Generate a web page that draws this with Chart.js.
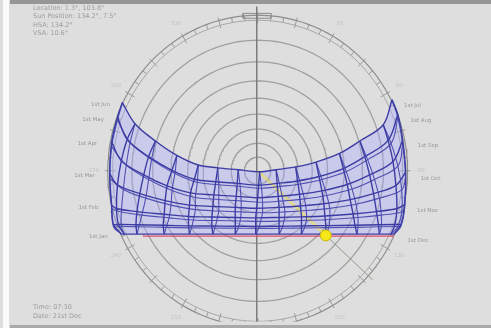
<!DOCTYPE html>
<html>
<head>
<meta charset="utf-8">
<script src="https://cdn.jsdelivr.net/npm/chart.js@4"></script>
<style>
  html, body { margin: 0; padding: 0; background: #dedede; }
  #wrap { position: relative; width: 491px; height: 328px; overflow: hidden; background: #dedede; }
  #chart { position: absolute; left: 0; top: 0; }
  .band-top { position: absolute; left: 10px; top: 0; width: 481px; height: 4px; background: #969696; }
  .strip { position: absolute; left: 3px; top: 0; width: 6px; height: 328px; background: #fbfbfb; }
  .band-bottom { position: absolute; left: 10px; top: 325px; width: 481px; height: 3px; background: #a9a9a9; }
  .info { position: absolute; left: 33px; font: 6.5px "DejaVu Sans", sans-serif; color: #9c9c9c; line-height: 8.3px; white-space: pre; }
</style>
</head>
<body>
<div id="wrap">
  <canvas id="chart" width="491" height="328"></canvas>
  <div class="band-top"></div>
  <div class="strip"></div>
  <div class="band-bottom"></div>
  <div class="info" id="head" style="top:4px"></div>
  <div class="info" id="foot" style="top:303px;line-height:9px"></div>
</div>
<script>
// ---- Diagram data (x: east-west offset, y: north-south offset, horizon radius = 154) ----
const horizonRadius = 154;
const ringAltitudes = [10, 20, 30, 40, 50, 60, 70, 80];
const azimuthLabels = ['0', '30', '60', '90', '120', '150', '180', '210', '240', '270', '300', '330'];

// hour lines between sunrise (first column) and sunset (last column)
const hourLabels = ['6', '7', '8', '9', '10', '11', '12', '13', '14', '15', '16', '17', '18'];

// day paths, top (June) to bottom (December): x and y at each column
const row0X = [-139, -126, -105, -83, -61, -41, -20, 2, 19, 39, 60, 84, 105, 129, 138];
const row0Y = [67.5, 46.6, 29.5, 15.2, 5.7, 2.9, 1.0, -1.0, 1.0, 3.8, 8.6, 17.1, 29.5, 45.6, 70.3];
const row1X = [-144, -134, -112, -88, -65, -43, -21, 1, 20, 41, 63, 88, 110, 134, 144];
const row1Y = [53.1, 31.0, 14.0, 0.4, -8.4, -10.8, -12.5, -14.3, -12.5, -10.1, -5.7, 2.2, 14.0, 30.1, 55.7];
const row2X = [-150, -140, -117, -93, -69, -45, -22, 0, 21, 43, 66, 92, 115, 139, 149];
const row2Y = [28.4, 10.0, -4.1, -15.0, -21.9, -23.9, -25.3, -26.6, -25.3, -23.3, -19.9, -13.6, -4.1, 9.1, 30.4];
const row3X = [-152, -144, -121, -95, -70, -46, -23, -1, 22, 44, 68, 95, 119, 142, 152];
const row3Y = [-2.9, -14.0, -22.6, -29.5, -34.0, -35.3, -36.2, -37.1, -36.2, -34.9, -32.7, -28.6, -22.6, -14.4, -1.5];
const row4X = [-150, -145, -124, -96, -71, -47, -23, -2, 22, 45, 69, 98, 122, 143, 151];
const row4Y = [-34.1, -37.3, -40.4, -43.1, -45.2, -45.8, -46.2, -46.6, -46.2, -45.6, -44.7, -42.8, -40.4, -37.4, -33.4];
const row5X = [-148, -143, -125, -97, -71, -47, -23, -2, 22, 45, 70, 100, 124, 141, 147];
const row5Y = [-53.6, -53.2, -53.4, -54.0, -54.5, -54.7, -54.9, -55.0, -54.9, -54.6, -54.3, -54.0, -53.4, -53.2, -53.4];
const row6X = [-140, -137, -124, -96, -70, -46, -23, -2, 22, 45, 70, 102, 125, 137, 140];
const row6Y = [-62.7, -62.7, -62.7, -62.7, -62.7, -62.7, -62.7, -62.7, -62.7, -62.7, -62.7, -62.7, -62.7, -62.7, -62.7];

// July-December branch of each hour loop: sideways and downward offset per day path
const loopSpread = [0, 3, 5, 6, 5, 3, 0];
const loopDrop = [0, 3, 4.5, 4.5, 3.5, 2, 0];

const pathLabelsLeft = ['1st Jun', '1st May', '1st Apr', '1st Mar', '1st Feb', '1st Jan'];
const pathLabelsRight = ['1st Jul', '1st Aug', '1st Sep', '1st Oct', '1st Nov', '1st Dec'];
const labelledRows = [0, 1, 2, 3, 4, 6];

// current date path and sun position
const currentDayX = [-118, 0, 140];
const currentDayY = [-64.6, -64.6, -64.6];
const sunPosition = [70, -64];

const infoLines = ['Location: 1.3\u00b0, 103.8\u00b0', 'Sun Position: 134.2\u00b0, 7.5\u00b0', 'HSA: 134.2\u00b0', 'VSA: 10.6\u00b0'];
const footerLines = ['Time: 07:30', 'Date: 21st Dec'];

// ---- Build the chart ----
const X_MIN = -258, X_MAX = 233, Y_MIN = -149.2, Y_MAX = 162.6;
const rowsX = [row0X, row1X, row2X, row3X, row4X, row5X, row6X];
const rowsY = [row0Y, row1Y, row2Y, row3Y, row4Y, row5Y, row6Y];
const nCols = row0X.length;
const lastCol = nCols - 1;

const GRID = '#3c3ca4';
const GRID_B = '#5050b2';

function lineSet(points, color, width, order, extra) {
  return Object.assign({
    data: points, showLine: true, borderColor: color, borderWidth: width,
    pointRadius: 0, fill: false, tension: 0, order: order
  }, extra || {});
}

function circlePoints(r) {
  const pts = [];
  for (let a = 0; a <= 360; a += 2) {
    const t = a * Math.PI / 180;
    pts.push({ x: r * Math.sin(t), y: r * Math.cos(t) });
  }
  return pts;
}

const datasets = [];

// altitude rings
ringAltitudes.forEach(alt => {
  const r = horizonRadius * Math.tan((90 - alt) / 2 * Math.PI / 180);
  datasets.push(lineSet(circlePoints(r), '#a0a0a0', 1.3, 20));
});
// horizon band
datasets.push(lineSet(circlePoints(horizonRadius), '#8e8e8e', 1.2, 19));
datasets.push(lineSet(circlePoints(horizonRadius - 5), '#a6a6a6', 1, 19));
for (let a = 0; a < 360; a += 5) {
  const t = a * Math.PI / 180;
  const r0 = horizonRadius - (a % 15 === 0 ? 8 : 5), r1 = horizonRadius + (a % 15 === 0 ? 3 : 0);
  datasets.push(lineSet([{ x: r0 * Math.sin(t), y: r0 * Math.cos(t) }, { x: r1 * Math.sin(t), y: r1 * Math.cos(t) }], '#9a9a9a', 1, 19));
}
// north-south axis and north marker box
datasets.push(lineSet([{ x: -1, y: Y_MAX }, { x: -1, y: Y_MIN }], '#7c7c7c', 1, 18));
datasets.push(lineSet([{ x: -15, y: 151 }, { x: 14, y: 151 }, { x: 14, y: 155.8 }, { x: -15, y: 155.8 }, { x: -15, y: 151 }], '#8a8a8a', 1, 18));

// shaded band covered by the sun paths
const outline = [];
for (let c = 0; c < nCols; c++) outline.push({ x: row0X[c], y: row0Y[c] });
for (let r = 1; r < rowsX.length; r++) outline.push({ x: rowsX[r][lastCol], y: rowsY[r][lastCol] });
for (let c = lastCol - 1; c >= 0; c--) outline.push({ x: row6X[c], y: row6Y[c] });
for (let r = rowsX.length - 2; r >= 1; r--) outline.push({ x: rowsX[r][0], y: rowsY[r][0] });
datasets.push({ data: outline, showLine: true, borderWidth: 0, borderColor: 'rgba(0,0,0,0)', pointRadius: 0,
  fill: 'shape', backgroundColor: 'rgba(165,165,255,0.36)', tension: 0.3, order: 15 });

// sun azimuth ray from the centre through the sun to the horizon
const sunDist = Math.hypot(sunPosition[0], sunPosition[1]);
const edgeScale = (horizonRadius + 6) / sunDist;
datasets.push(lineSet([{ x: 0, y: 0 }, { x: sunPosition[0], y: sunPosition[1] }], 'rgba(236,226,70,0.55)', 3, 12));
datasets.push(lineSet([{ x: sunPosition[0], y: sunPosition[1] }, { x: sunPosition[0] * edgeScale, y: sunPosition[1] * edgeScale }], 'rgba(110,140,100,0.75)', 1, 12));

function branchPoint(r, c) {
  const inner = c !== 0 && c !== lastCol;
  return { x: rowsX[r][c] + (inner ? loopSpread[r] : 0), y: rowsY[r][c] - loopDrop[r] };
}

// day paths (Jan-Jun branch, then Jul-Dec branch)
rowsX.forEach((xs, r) => {
  datasets.push(lineSet(xs.map((x, c) => ({ x: x, y: rowsY[r][c] })), GRID, 1.4, 5, { tension: 0.35 }));
  if (loopSpread[r] > 0 || loopDrop[r] > 0) {
    datasets.push(lineSet(xs.map((x, c) => branchPoint(r, c)), GRID_B, 1.1, 6, { tension: 0.35 }));
  }
});

// sunrise / sunset envelopes
[0, lastCol].forEach(c => {
  datasets.push(lineSet(rowsX.map((xs, r) => ({ x: xs[c], y: rowsY[r][c] })), GRID, 1.4, 5, { tension: 0.35 }));
  datasets.push(lineSet(rowsX.map((xs, r) => branchPoint(r, c)), GRID_B, 1.1, 6, { tension: 0.35 }));
});

// hour loops
hourLabels.forEach((h, i) => {
  const c = i + 1;
  datasets.push(lineSet(rowsX.map((xs, r) => ({ x: xs[c], y: rowsY[r][c] })), GRID, 1.4, 5, { tension: 0.35 }));
  datasets.push(lineSet(rowsX.map((xs, r) => branchPoint(r, c)), GRID_B, 1.1, 6, { tension: 0.35 }));
});

// current day path
datasets.push(lineSet(currentDayX.map((x, i) => ({ x: x, y: currentDayY[i] })), '#dc4a6a', 1.2, 3));

// sun
datasets.push({ data: [{ x: sunPosition[0], y: sunPosition[1] }], showLine: false, pointRadius: 5.5,
  pointBackgroundColor: '#f4e818', pointBorderColor: '#cdb400', pointBorderWidth: 1, order: 0 });

const labelPlugin = {
  id: 'diagramLabels',
  afterDatasetsDraw(chart) {
    const { ctx, scales: { x, y } } = chart;
    ctx.save();
    ctx.font = '5.5px "DejaVu Sans", sans-serif';
    ctx.fillStyle = '#989898';
    ctx.textBaseline = 'middle';
    labelledRows.forEach((r, i) => {
      const yl = rowsY[r][0];
      const xl = -Math.sqrt(Math.max(0, horizonRadius * horizonRadius - yl * yl));
      ctx.textAlign = 'right';
      ctx.fillText(pathLabelsLeft[i], x.getPixelForValue(xl) - 13, y.getPixelForValue(yl) + 2);
      const yr = rowsY[r][lastCol];
      const xr = Math.sqrt(Math.max(0, horizonRadius * horizonRadius - yr * yr));
      ctx.textAlign = 'left';
      ctx.fillText(pathLabelsRight[i], x.getPixelForValue(xr) + 13, y.getPixelForValue(yr) + 6);
    });
    ctx.fillStyle = '#c2c2c2';
    ctx.textAlign = 'center';
    azimuthLabels.forEach((lab, i) => {
      if (i === 0 || i === 6) return;
      const t = i * 30 * Math.PI / 180;
      const r = horizonRadius + 14;
      ctx.fillText(lab, x.getPixelForValue(r * Math.sin(t)), y.getPixelForValue(r * Math.cos(t)));
    });
    ctx.restore();
  }
};

new Chart(document.getElementById('chart'), {
  type: 'scatter',
  data: { datasets: datasets },
  options: {
    responsive: false,
    animation: false,
    events: [],
    layout: { padding: 0 },
    plugins: { legend: { display: false }, tooltip: { enabled: false } },
    scales: {
      x: { type: 'linear', min: X_MIN, max: X_MAX, display: false },
      y: { type: 'linear', min: Y_MIN, max: Y_MAX, display: false }
    }
  },
  plugins: [labelPlugin]
});

document.getElementById('head').textContent = infoLines.join('\n');
document.getElementById('foot').textContent = footerLines.join('\n');
</script>
</body>
</html>
